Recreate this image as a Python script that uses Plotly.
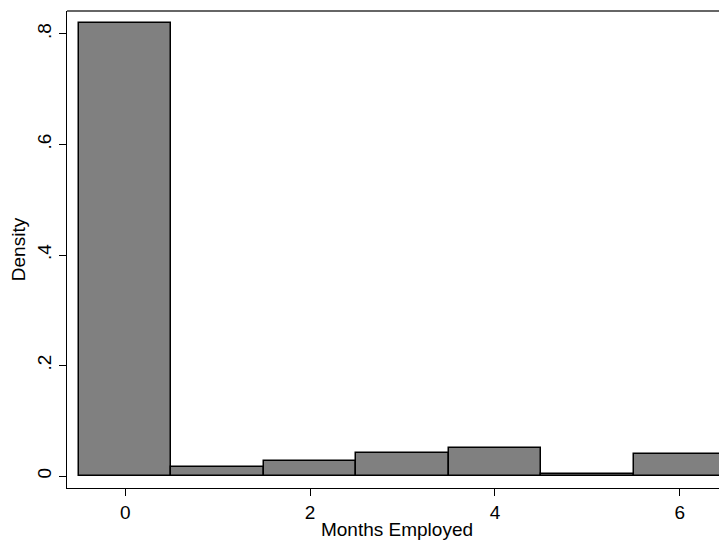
import plotly.graph_objects as go

months = [0, 1, 2, 3, 4, 5, 6]
density = [0.819, 0.017, 0.027, 0.041, 0.051, 0.003, 0.040]
y_ticks = [0, 0.2, 0.4, 0.6, 0.8]
y_tick_labels = ["0", ".2", ".4", ".6", ".8"]
x_ticks = [0, 2, 4, 6]

font = "Liberation Sans, Arial, Helvetica, sans-serif"

fig = go.Figure()
fig.add_trace(go.Bar(
    x=months, y=density, width=1,
    marker=dict(color="#808080", line=dict(color="black", width=1.5)),
    showlegend=False,
))

# page body has an 8px margin, so the figure is offset by 8px
fig.update_layout(
    width=719, height=535,
    margin=dict(l=59, r=0, t=3, b=55),
    paper_bgcolor="white", plot_bgcolor="white",
    font=dict(family=font, size=19, color="black"),
    bargap=0,
    xaxis=dict(
        range=[-0.63, 6.51], tickvals=x_ticks, ticks="outside", ticklen=7,
        tickwidth=1, tickcolor="black", showgrid=False, zeroline=False,
        showline=True, linecolor="black", linewidth=1.2, automargin=False,
        title=dict(text="Months Employed", standoff=0, font=dict(size=19)),
        tickfont=dict(size=19),
    ),
    yaxis=dict(
        range=[-0.0217, 0.8416], tickvals=y_ticks, ticktext=y_tick_labels,
        tickangle=-90, ticks="outside", ticklen=7, tickwidth=1, tickcolor="black",
        showgrid=False, zeroline=False, showline=True, linecolor="black", linewidth=1.2,
        automargin=False,
        title=dict(text="Density", standoff=4, font=dict(size=19)),
        tickfont=dict(size=19),
    ),
)
fig.add_shape(type="line", xref="paper", yref="paper", x0=0, x1=1, y0=1, y1=1,
              line=dict(color="#666666", width=2))

fig.write_html("out.html")
